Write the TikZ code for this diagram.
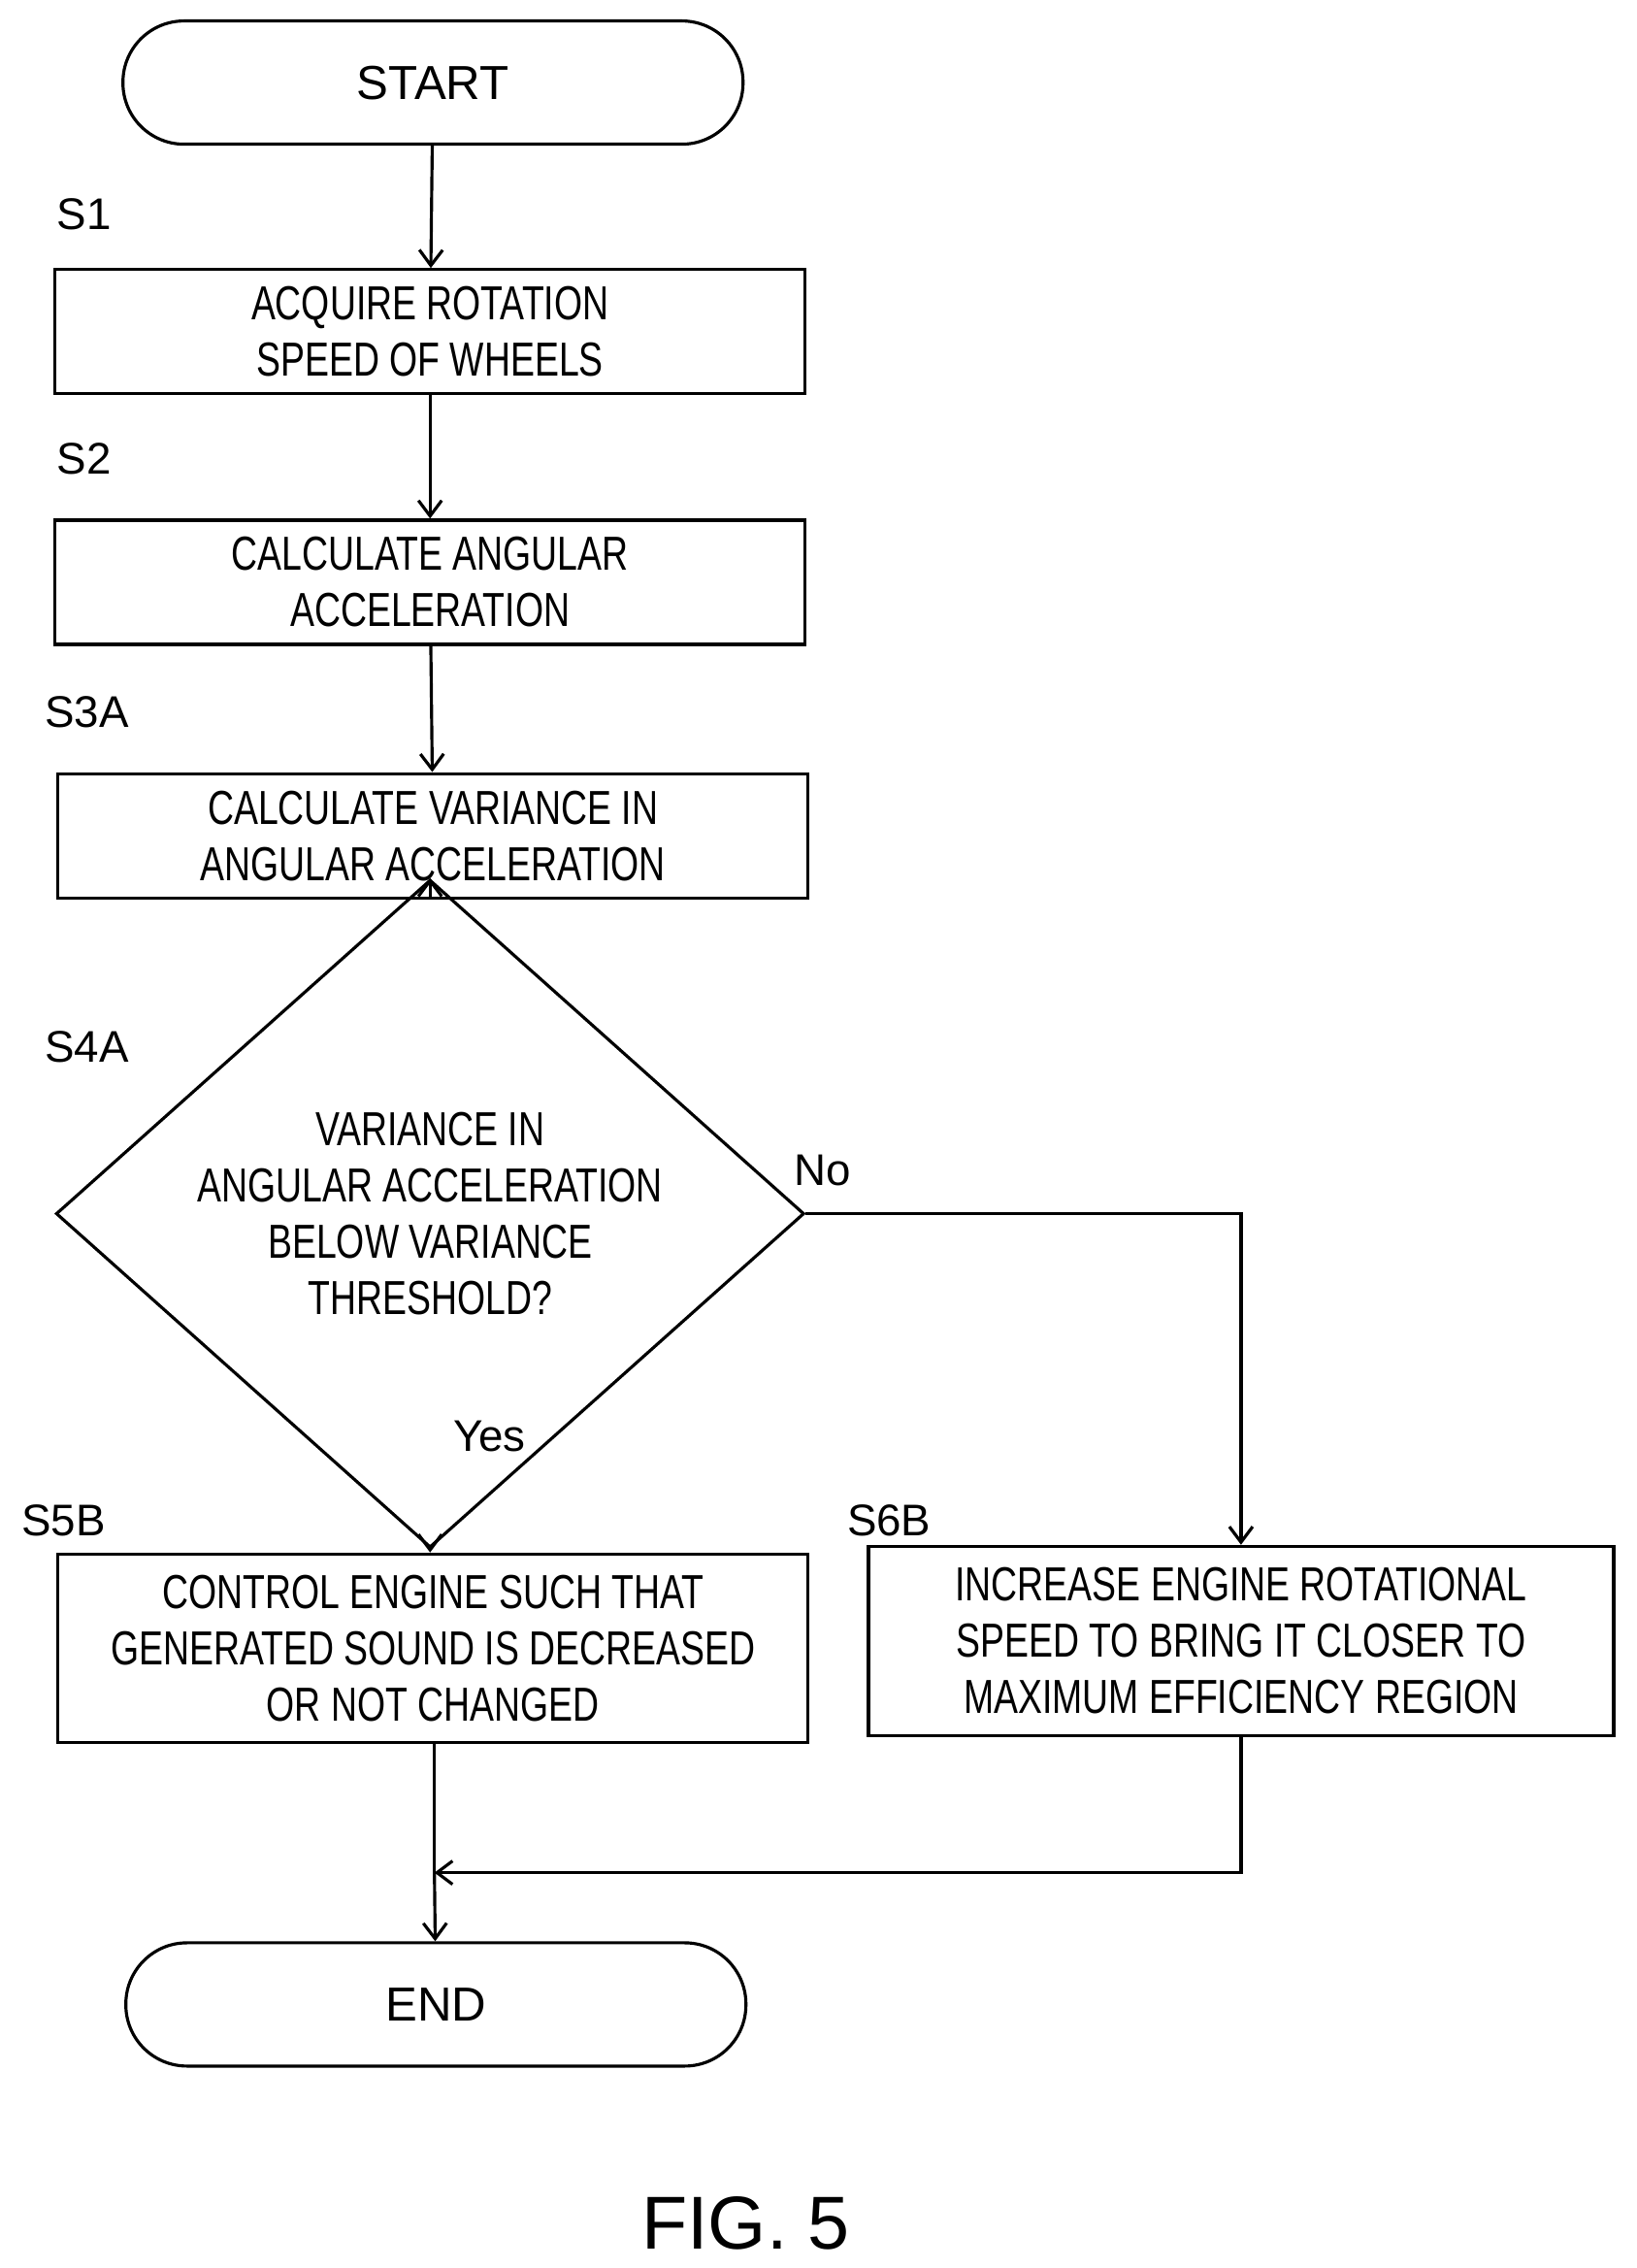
\documentclass[tikz,border=0pt]{standalone}
\usepackage{fontspec}
\setmainfont{Liberation Sans}
\newfontfamily\condfont[FakeStretch=0.76]{Liberation Sans}
\usetikzlibrary{positioning, arrows.meta, shapes.geometric}

\tikzset{
    stepbox/.style={draw, line width=0.9pt, minimum width=7.73cm, minimum height=1.28cm,
        align=center, font=\condfont\fontsize{14}{16.5}\selectfont},
    term/.style={draw, line width=0.9pt, rounded corners=0.63cm, minimum width=6.39cm,
        minimum height=1.27cm, font=\fontsize{14}{16}\selectfont},
    tag/.style={font=\fontsize{13}{15}\selectfont},
    flow/.style={line width=0.9pt, -{Straight Barb[length=1.6mm, width=2.4mm]}}
}

\begin{document}
\begin{tikzpicture}[x=0.01492cm, y=-0.01492cm]
    \useasboundingbox (0,0) rectangle (1130,1566);

    \node[term] (start) at (299,57) {START};
    \node[stepbox] (s1) at (297,229) {ACQUIRE ROTATION\\SPEED OF WHEELS};
    \node[stepbox] (s2) at (297,402) {CALCULATE ANGULAR\\ACCELERATION};
    \node[stepbox] (s3) at (299,577) {CALCULATE VARIANCE IN\\ANGULAR ACCELERATION};
    \node[draw, line width=0.9pt, diamond, inner sep=0pt, minimum width=7.71cm,
        minimum height=3.83cm, align=center, font=\condfont\fontsize{14}{16.5}\selectfont]
        (s4) at (297,838) {VARIANCE IN\\ANGULAR ACCELERATION\\BELOW VARIANCE\\THRESHOLD?};
    \node[stepbox, minimum height=1.94cm] (s5) at (299,1138)
        {CONTROL ENGINE SUCH THAT\\GENERATED SOUND IS DECREASED\\OR NOT CHANGED};
    \node[stepbox, minimum width=7.68cm, minimum height=1.95cm] (s6) at (857,1133)
        {INCREASE ENGINE ROTATIONAL\\SPEED TO BRING IT CLOSER TO\\MAXIMUM EFFICIENCY REGION};
    \node[term] (end) at (301,1384) {END};

    % step labels
    \node[tag] at (58,148) {S1};
    \node[tag] at (58,317) {S2};
    \node[tag] at (60,492) {S3A};
    \node[tag] at (60,723) {S4A};
    \node[tag] at (44,1050) {S5B};
    \node[tag] at (614,1050) {S6B};
    \node[tag] at (568,808) {No};
    \node[tag] at (338,992) {Yes};

    \coordinate (merge) at (300,1293);

    \draw[flow] (start) -- (s1);
    \draw[flow] (s1) -- (s2);
    \draw[flow] (s2) -- (s3);
    \draw[flow] (s3.south -| s4.north) -- (s4);
    \draw[flow] (s4.south) -- (s4.south |- s5.north);
    \draw[flow] (s4.east) -| (s6.north);
    \draw[line width=0.9pt] (s5.south -| merge) -- (merge);
    \draw[flow] (s6.south) |- (merge);
    \draw[flow] (merge) -- (end);

    \node[font=\fontsize{22}{26}\selectfont] (fig) at (515,1535) {FIG. 5};
\end{tikzpicture}
\end{document}
